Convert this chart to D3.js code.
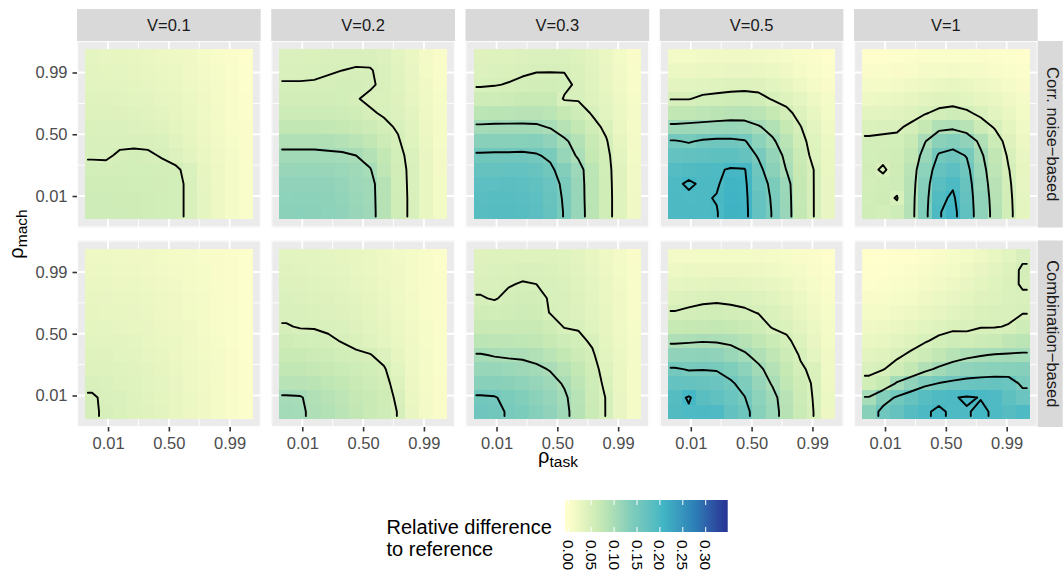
<!DOCTYPE html>
<html>
<head>
<meta charset="utf-8">
<script src="https://cdn.jsdelivr.net/npm/d3@7"></script>
<style>
  body { margin: 0; background: #fff; }
  svg { font-family: "Liberation Sans", Arial, Helvetica, sans-serif; }
</style>
</head>
<body>
<svg id="svg" width="1064" height="578"></svg>
<script>
const vLabels = ['V=0.1', 'V=0.2', 'V=0.3', 'V=0.5', 'V=1']
const methodLabels = ['Corr. noise\u2212based', 'Combination\u2212based']
const rhoTicks = [0.01, 0.5, 0.99]
const legendTicks = [0, 0.05, 0.1, 0.15, 0.2, 0.25, 0.3]
const contourLevels = [5, 10, 15, 20, 25]
const paletteStops = [0, 6.9, 13.8, 20.7, 27.6, 34.5]
const paletteColors = ['#ffffcc', '#c7e9b4', '#7fcdbb', '#41b6c4', '#2c7fb8', '#253494']

// relative difference in percent, 12 x 12 per panel
// rows: rho_mach high -> low, columns: rho_task low -> high
const corrV01 = [
  [3.2, 3.1, 3.0, 2.8, 2.6, 2.4, 2.1, 1.8, 1.4, 1.0, 0.6, 0.3],
  [3.4, 3.3, 3.2, 3.0, 2.8, 2.6, 2.3, 1.9, 1.5, 1.1, 0.7, 0.4],
  [3.6, 3.5, 3.4, 3.3, 3.1, 2.9, 2.5, 2.1, 1.7, 1.2, 0.8, 0.4],
  [3.9, 3.8, 3.7, 3.6, 3.4, 3.1, 2.8, 2.3, 1.8, 1.3, 0.9, 0.5],
  [4.2, 4.1, 4.0, 3.9, 3.7, 3.4, 3.0, 2.5, 2.0, 1.5, 1.0, 0.5],
  [4.5, 4.4, 4.4, 4.3, 4.1, 3.8, 3.3, 2.8, 2.2, 1.6, 1.0, 0.6],
  [4.8, 4.7, 4.7, 4.7, 4.7, 4.4, 3.7, 3.0, 2.4, 1.7, 1.1, 0.6],
  [4.8, 4.8, 5.2, 5.3, 5.2, 4.9, 4.3, 3.4, 2.6, 1.9, 1.2, 0.6],
  [5.5, 5.4, 5.4, 5.5, 5.5, 5.4, 5.3, 4.4, 3.0, 2.1, 1.3, 0.7],
  [5.8, 5.8, 5.8, 5.7, 5.7, 5.6, 5.5, 4.6, 3.1, 2.1, 1.3, 0.7],
  [6.0, 6.0, 5.9, 5.9, 5.8, 5.7, 5.5, 4.6, 3.2, 2.2, 1.3, 0.7],
  [6.1, 6.0, 6.0, 5.9, 5.8, 5.7, 5.5, 4.6, 3.2, 2.2, 1.4, 0.7]
]
const corrV02 = [
  [4.4, 4.4, 4.5, 4.6, 4.7, 4.7, 4.6, 4.3, 3.5, 2.5, 1.5, 0.8],
  [4.7, 4.7, 4.8, 4.9, 5.0, 5.1, 5.1, 4.6, 3.7, 2.7, 1.6, 0.9],
  [5.1, 5.1, 5.1, 5.2, 5.3, 5.3, 5.2, 4.7, 3.9, 2.9, 1.8, 1.0],
  [5.6, 5.6, 5.6, 5.6, 5.5, 5.1, 4.7, 4.5, 4.0, 3.1, 2.0, 1.1],
  [6.3, 6.3, 6.3, 6.2, 6.0, 5.8, 5.2, 4.8, 4.3, 3.4, 2.2, 1.2],
  [7.3, 7.3, 7.3, 7.2, 7.0, 6.7, 6.2, 5.4, 4.8, 3.7, 2.4, 1.3],
  [9.2, 9.2, 9.2, 9.0, 8.8, 8.2, 7.3, 6.2, 5.2, 3.9, 2.6, 1.4],
  [10.6, 10.6, 10.6, 10.5, 10.4, 10.0, 8.8, 7.2, 5.5, 4.4, 2.7, 1.5],
  [11.5, 11.6, 11.6, 11.5, 11.3, 10.8, 10.2, 7.6, 5.6, 4.6, 2.8, 1.5],
  [12.2, 12.3, 12.3, 12.2, 11.8, 11.2, 10.8, 8.5, 5.7, 4.6, 2.8, 1.6],
  [12.6, 12.7, 12.7, 12.5, 12.1, 11.4, 10.9, 8.5, 5.8, 4.6, 2.9, 1.6],
  [12.8, 12.9, 12.8, 12.6, 12.2, 11.5, 11.0, 8.5, 5.8, 4.6, 2.9, 1.6]
]
const corrV03 = [
  [4.0, 4.1, 4.2, 4.3, 4.4, 4.4, 4.4, 4.2, 3.4, 2.5, 1.6, 0.8],
  [4.3, 4.4, 4.5, 4.7, 4.9, 4.9, 4.9, 4.5, 3.7, 2.7, 1.7, 0.9],
  [4.8, 4.9, 5.1, 5.4, 5.6, 5.7, 5.5, 4.6, 3.9, 2.9, 1.9, 1.0],
  [6.0, 6.1, 6.3, 6.5, 6.6, 6.5, 4.8, 4.8, 4.2, 3.2, 2.1, 1.1],
  [8.0, 8.1, 8.2, 8.3, 8.3, 8.0, 7.0, 6.0, 4.8, 3.6, 2.3, 1.2],
  [10.5, 10.6, 10.6, 10.6, 10.5, 9.8, 8.5, 7.2, 5.8, 4.5, 2.6, 1.4],
  [13.0, 13.0, 13.0, 13.1, 13.2, 12.3, 10.5, 8.8, 6.6, 5.2, 3.0, 1.5],
  [15.5, 15.6, 15.6, 15.7, 15.3, 14.4, 11.6, 9.6, 7.0, 5.6, 3.4, 1.6],
  [17.0, 17.1, 17.2, 17.2, 16.8, 15.6, 13.5, 11.2, 8.0, 5.7, 3.8, 1.7],
  [18.0, 18.1, 18.2, 18.1, 17.6, 16.4, 14.3, 11.5, 8.0, 5.8, 3.8, 1.7],
  [18.5, 18.6, 18.6, 18.5, 18.0, 16.8, 14.6, 11.6, 8.0, 5.8, 3.9, 1.8],
  [18.7, 18.8, 18.8, 18.6, 18.2, 17.0, 14.8, 11.7, 8.1, 5.8, 3.9, 1.8]
]
const corrV05 = [
  [1.5, 1.6, 1.7, 1.8, 1.8, 1.8, 1.7, 1.5, 1.2, 0.9, 0.6, 0.3],
  [2.3, 2.4, 2.5, 2.6, 2.7, 2.7, 2.6, 2.3, 1.9, 1.4, 0.9, 0.5],
  [3.5, 3.6, 3.7, 3.9, 4.1, 4.2, 4.0, 3.6, 3.0, 2.2, 1.4, 0.8],
  [4.9, 4.9, 5.5, 5.7, 5.9, 6.0, 5.8, 4.8, 4.2, 3.2, 2.1, 1.2],
  [7.3, 7.5, 7.8, 8.1, 8.3, 8.4, 8.0, 7.0, 5.6, 4.2, 2.8, 1.6],
  [10.8, 11.0, 11.2, 11.4, 11.6, 11.4, 10.3, 8.9, 7.0, 5.1, 3.4, 2.0],
  [15.3, 14.7, 15.5, 15.8, 15.8, 15.3, 12.6, 10.5, 8.2, 5.8, 3.9, 2.3],
  [17.2, 17.4, 17.6, 17.8, 17.8, 17.0, 14.6, 11.9, 9.2, 6.4, 4.2, 2.5],
  [19.0, 19.2, 19.4, 19.6, 20.3, 20.2, 16.0, 12.8, 9.9, 6.8, 4.9, 2.6],
  [19.6, 20.3, 19.7, 19.8, 20.8, 20.6, 16.6, 14.2, 11.2, 7.0, 4.9, 2.7],
  [19.7, 19.6, 19.8, 20.1, 21.0, 20.8, 17.0, 14.6, 11.4, 7.1, 4.9, 2.7],
  [19.8, 19.8, 19.7, 19.9, 21.1, 20.9, 17.2, 14.8, 11.5, 7.2, 4.9, 2.7]
]
const corrV1 = [
  [0.3, 0.3, 0.4, 0.5, 0.6, 0.7, 0.7, 0.7, 0.6, 0.5, 0.4, 0.3],
  [0.6, 0.7, 0.8, 1.0, 1.2, 1.4, 1.5, 1.4, 1.2, 1.0, 0.7, 0.5],
  [1.2, 1.3, 1.5, 1.8, 2.2, 2.6, 2.8, 2.6, 2.2, 1.7, 1.2, 0.8],
  [2.2, 2.3, 2.6, 3.0, 3.4, 3.8, 3.9, 3.6, 3.0, 2.5, 1.9, 1.2],
  [3.4, 3.5, 3.7, 4.2, 4.8, 5.6, 6.0, 5.4, 4.4, 3.6, 2.6, 1.6],
  [4.5, 4.6, 4.7, 5.4, 7.0, 9.0, 9.4, 8.4, 6.3, 4.8, 3.3, 2.0],
  [5.3, 5.4, 5.5, 6.6, 9.8, 12.8, 13.4, 12.2, 9.2, 6.3, 4.0, 2.4],
  [5.5, 5.6, 5.8, 7.4, 11.4, 15.4, 16.2, 14.8, 10.6, 7.3, 4.6, 2.7],
  [5.6, 4.7, 5.9, 8.2, 12.6, 17.0, 18.0, 16.0, 11.3, 7.9, 5.1, 3.0],
  [5.4, 5.8, 6.0, 8.5, 13.2, 18.4, 19.6, 16.8, 11.8, 8.3, 5.4, 3.1],
  [5.7, 5.9, 4.8, 8.7, 13.6, 19.2, 20.5, 17.3, 12.2, 8.6, 5.6, 3.2],
  [5.8, 5.3, 6.1, 8.8, 13.8, 19.8, 21.0, 17.6, 12.4, 8.8, 5.7, 3.3]
]
const combV01 = [
  [2.2, 2.1, 2.0, 1.9, 1.8, 1.6, 1.4, 1.2, 1.0, 0.8, 0.6, 0.4],
  [2.4, 2.3, 2.2, 2.1, 1.9, 1.7, 1.5, 1.3, 1.1, 0.8, 0.6, 0.4],
  [2.6, 2.5, 2.4, 2.3, 2.1, 1.9, 1.7, 1.4, 1.1, 0.9, 0.6, 0.4],
  [2.8, 2.7, 2.6, 2.5, 2.3, 2.1, 1.8, 1.5, 1.2, 0.9, 0.6, 0.4],
  [3.0, 2.9, 2.8, 2.7, 2.5, 2.2, 1.9, 1.6, 1.3, 1.0, 0.7, 0.4],
  [3.3, 3.2, 3.1, 2.9, 2.7, 2.4, 2.1, 1.8, 1.4, 1.0, 0.7, 0.4],
  [3.6, 3.5, 3.4, 3.2, 2.9, 2.6, 2.3, 1.9, 1.5, 1.1, 0.7, 0.4],
  [3.9, 3.8, 3.6, 3.4, 3.1, 2.8, 2.4, 2.0, 1.6, 1.2, 0.8, 0.4],
  [4.2, 4.1, 3.9, 3.7, 3.4, 3.0, 2.6, 2.1, 1.7, 1.2, 0.8, 0.5],
  [4.6, 4.4, 4.2, 3.9, 3.6, 3.2, 2.7, 2.2, 1.7, 1.3, 0.8, 0.5],
  [5.2, 4.7, 4.4, 4.1, 3.7, 3.3, 2.8, 2.3, 1.8, 1.3, 0.9, 0.5],
  [5.1, 4.9, 4.5, 4.2, 3.8, 3.4, 2.9, 2.4, 1.8, 1.3, 0.9, 0.5]
]
const combV02 = [
  [3.6, 3.5, 3.4, 3.2, 3.0, 2.8, 2.5, 2.1, 1.7, 1.3, 0.9, 0.5],
  [3.8, 3.7, 3.6, 3.4, 3.2, 2.9, 2.6, 2.2, 1.8, 1.4, 0.9, 0.5],
  [4.1, 4.0, 3.9, 3.7, 3.4, 3.1, 2.8, 2.4, 1.9, 1.4, 1.0, 0.6],
  [4.4, 4.3, 4.2, 4.0, 3.7, 3.4, 3.0, 2.5, 2.0, 1.5, 1.0, 0.6],
  [4.7, 4.6, 4.5, 4.3, 4.0, 3.7, 3.3, 2.7, 2.1, 1.6, 1.0, 0.6],
  [5.1, 4.9, 4.9, 4.7, 4.4, 4.0, 3.6, 3.0, 2.3, 1.7, 1.1, 0.6],
  [5.9, 5.7, 5.5, 5.3, 4.9, 4.5, 3.9, 3.2, 2.5, 1.8, 1.1, 0.7],
  [6.6, 6.5, 6.3, 6.0, 5.7, 5.3, 5.1, 4.3, 3.0, 2.0, 1.2, 0.7],
  [7.4, 7.3, 7.1, 6.8, 6.4, 6.0, 5.7, 5.2, 3.6, 2.2, 1.3, 0.7],
  [8.4, 8.3, 8.1, 7.7, 7.2, 6.6, 6.1, 5.6, 4.2, 2.4, 1.4, 0.8],
  [10.3, 10.2, 9.1, 8.5, 7.8, 7.1, 6.5, 5.9, 4.6, 2.6, 1.5, 0.8],
  [10.5, 10.4, 9.4, 8.9, 8.2, 7.4, 6.7, 6.1, 4.9, 2.7, 1.5, 0.8]
]
const combV03 = [
  [4.0, 4.1, 4.1, 4.2, 4.2, 4.1, 3.9, 3.5, 2.9, 2.2, 1.5, 0.8],
  [4.3, 4.4, 4.5, 4.6, 4.7, 4.5, 4.2, 3.7, 3.1, 2.4, 1.6, 0.9],
  [4.7, 4.7, 4.9, 5.1, 5.0, 4.8, 4.4, 3.9, 3.2, 2.5, 1.7, 0.9],
  [5.1, 4.9, 5.3, 5.6, 5.6, 4.8, 4.6, 4.1, 3.4, 2.6, 1.8, 1.0],
  [5.8, 5.7, 5.8, 6.0, 5.9, 4.9, 4.7, 4.3, 3.6, 2.8, 1.9, 1.0],
  [6.6, 6.6, 6.7, 6.7, 6.5, 5.9, 4.9, 4.8, 3.9, 3.0, 2.0, 1.1],
  [8.0, 7.9, 7.8, 7.7, 7.4, 6.8, 6.0, 5.5, 4.7, 3.3, 2.2, 1.2],
  [10.2, 9.8, 9.6, 9.5, 9.0, 8.2, 7.2, 6.3, 5.3, 3.6, 2.3, 1.2],
  [11.7, 11.6, 11.3, 11.0, 10.6, 9.8, 8.5, 7.2, 5.8, 4.1, 2.5, 1.3],
  [13.0, 13.0, 12.8, 12.4, 11.8, 11.0, 9.7, 7.9, 6.1, 4.5, 2.6, 1.3],
  [15.4, 15.2, 14.2, 13.6, 12.7, 11.8, 10.5, 8.4, 6.3, 4.9, 2.7, 1.4],
  [15.8, 15.5, 14.8, 14.2, 13.2, 12.2, 10.8, 8.6, 6.4, 4.9, 2.7, 1.4]
]
const combV05 = [
  [1.5, 1.5, 1.6, 1.6, 1.6, 1.6, 1.5, 1.3, 1.1, 0.8, 0.6, 0.3],
  [2.2, 2.3, 2.4, 2.4, 2.4, 2.4, 2.2, 2.0, 1.6, 1.2, 0.8, 0.5],
  [3.1, 3.2, 3.3, 3.4, 3.4, 3.3, 3.1, 2.8, 2.3, 1.7, 1.1, 0.6],
  [4.1, 4.3, 4.5, 4.6, 4.5, 4.4, 4.1, 3.7, 3.0, 2.3, 1.5, 0.9],
  [5.1, 5.4, 5.7, 5.8, 5.6, 5.3, 4.9, 4.5, 3.8, 2.9, 1.9, 1.1],
  [6.9, 7.0, 7.1, 7.2, 7.0, 6.6, 6.0, 4.8, 4.5, 3.5, 2.3, 1.3],
  [9.4, 9.6, 9.8, 9.7, 9.4, 8.6, 7.5, 6.4, 5.4, 4.2, 2.7, 1.6],
  [12.3, 12.4, 12.5, 12.2, 11.4, 10.4, 9.0, 7.6, 6.2, 4.8, 3.2, 1.8],
  [15.3, 14.8, 14.9, 14.8, 13.8, 12.6, 10.6, 8.8, 7.0, 5.3, 4.5, 2.0],
  [17.2, 17.0, 16.8, 16.4, 15.4, 14.0, 11.8, 9.7, 7.5, 5.9, 4.7, 2.1],
  [18.9, 20.3, 18.4, 17.6, 16.6, 15.1, 12.6, 10.9, 8.3, 6.2, 4.8, 2.3],
  [19.2, 19.6, 19.8, 19.5, 17.4, 16.2, 13.0, 11.3, 8.5, 6.4, 4.9, 2.4]
]
const combV1 = [
  [0.0, 0.1, 0.2, 0.3, 0.5, 0.8, 1.1, 1.6, 2.1, 2.8, 3.6, 4.6],
  [0.2, 0.3, 0.4, 0.6, 0.9, 1.2, 1.6, 2.1, 2.7, 3.4, 4.2, 5.3],
  [0.4, 0.5, 0.7, 0.9, 1.3, 1.7, 2.1, 2.7, 3.3, 3.9, 4.5, 5.2],
  [0.8, 0.9, 1.1, 1.4, 1.8, 2.3, 2.7, 3.3, 3.8, 4.2, 4.4, 4.7],
  [1.3, 1.4, 1.7, 2.1, 2.6, 3.1, 3.6, 4.1, 4.5, 4.7, 4.6, 4.9],
  [1.9, 2.1, 2.5, 3.0, 3.6, 4.2, 4.5, 4.6, 4.9, 4.9, 5.1, 6.0],
  [2.6, 2.9, 3.4, 4.1, 4.8, 5.5, 6.1, 5.8, 6.2, 6.6, 7.6, 8.0],
  [3.4, 3.8, 4.6, 5.4, 6.3, 7.3, 8.4, 9.3, 9.8, 10.2, 10.3, 10.4],
  [4.4, 4.9, 5.9, 7.2, 9.2, 10.6, 11.7, 12.3, 12.7, 12.9, 13.1, 13.2],
  [5.7, 6.9, 10.4, 12.3, 14.0, 15.1, 15.8, 16.4, 16.7, 16.9, 16.6, 14.3],
  [10.2, 13.5, 15.4, 17.0, 18.6, 19.4, 19.8, 20.3, 19.9, 19.5, 17.8, 16.4],
  [13.0, 16.0, 17.0, 18.8, 19.7, 20.4, 19.6, 19.8, 20.5, 19.6, 18.8, 19.6]
]

const grids = [
  [corrV01, corrV02, corrV03, corrV05, corrV1],
  [combV01, combV02, combV03, combV05, combV1]
]

const svg = d3.select('#svg')
const color = d3.scaleLinear()
  .domain(paletteStops)
  .range(paletteColors)
  .interpolate(d3.interpolateLab)
  .clamp(true)

const fx = d3.scaleBand().domain(vLabels).range([77, 1037.7]).paddingInner(0.0543)
const fy = d3.scaleBand().domain(methodLabels).range([41, 427]).paddingInner(0.065)
const bw = fx.bandwidth()
const bh = fy.bandwidth()
const x = d3.scaleLinear().domain([-0.24, 1.24]).range([0, bw])
const y = d3.scaleLinear().domain([-0.24, 1.24]).range([bh, 0])
const tileLo = -0.175
const tileHi = 1.175
const minorBreaks = [-0.235, 0.255, 0.745, 1.235]

// open contour lines like ggplot: drop the parts running along the grid border,
// and let each open end reach close to the outer tile edge
function contourLines(grid, level) {
  const n = grid[0].length
  const m = grid.length
  const mp = d3.contours().size([n, m]).smooth(true).thresholds([level])(grid.flat())[0]
  const inside = p => p[0] > 0 && p[0] < n && p[1] > 0 && p[1] < m
  const edgeEnd = (b, q) => {
    if (b[0] <= 0) return [0.2, q[1]]
    if (b[0] >= n) return [n - 0.2, q[1]]
    if (b[1] <= 0) return [q[0], 0.2]
    return [q[0], m - 0.2]
  }
  const lines = []
  mp.coordinates.forEach(poly => poly.forEach(ring => {
    const pts = ring.slice(0, -1)
    const k = pts.findIndex(p => !inside(p))
    if (k < 0) { lines.push(ring); return }
    let run = []
    let start = pts[k]
    for (let i = 1; i <= pts.length; i += 1) {
      const p = pts[(k + i) % pts.length]
      if (inside(p)) run.push(p)
      else {
        if (run.length > 1) {
          lines.push([edgeEnd(start, run[0]), ...run, edgeEnd(p, run[run.length - 1])])
        }
        run = []
        start = p
      }
    }
  }))
  return lines
}

function styleAxis(a) {
  a.attr('font-family', null).attr('font-size', 16.5)
  a.select('.domain').remove()
  a.selectAll('line').attr('stroke', '#333333').attr('stroke-width', 1.6)
  a.selectAll('text').attr('fill', '#4d4d4d')
}

methodLabels.forEach((method, i) => {
  vLabels.forEach((v, j) => {
    const grid = grids[i][j]
    const cw = (tileHi - tileLo) / grid.length
    const g = svg.append('g').attr('transform', `translate(${fx(v)},${fy(method)})`)

    g.append('rect').attr('width', bw).attr('height', bh).attr('fill', '#ebebeb')
    g.selectAll('.minx').data(minorBreaks).join('line')
      .attr('x1', d => x(d)).attr('x2', d => x(d)).attr('y1', 0).attr('y2', bh)
      .attr('stroke', '#fff').attr('stroke-width', 0.9)
    g.selectAll('.miny').data(minorBreaks).join('line')
      .attr('y1', d => y(d)).attr('y2', d => y(d)).attr('x1', 0).attr('x2', bw)
      .attr('stroke', '#fff').attr('stroke-width', 0.9)
    g.selectAll('.majx').data(rhoTicks).join('line')
      .attr('x1', d => x(d)).attr('x2', d => x(d)).attr('y1', 0).attr('y2', bh)
      .attr('stroke', '#fff').attr('stroke-width', 1.8)
    g.selectAll('.majy').data(rhoTicks).join('line')
      .attr('y1', d => y(d)).attr('y2', d => y(d)).attr('x1', 0).attr('x2', bw)
      .attr('stroke', '#fff').attr('stroke-width', 1.8)

    const cells = grid.flatMap((row, r) => row.map((val, c) => ({ r, c, val })))
    g.append('g').selectAll('rect').data(cells).join('rect')
      .attr('x', d => x(tileLo + d.c * cw))
      .attr('y', d => y(tileHi - d.r * cw))
      .attr('width', d => x(tileLo + (d.c + 1) * cw) - x(tileLo + d.c * cw))
      .attr('height', d => y(tileHi - (d.r + 1) * cw) - y(tileHi - d.r * cw))
      .attr('fill', d => color(d.val))
      .attr('shape-rendering', 'crispEdges')

    const line = d3.line()
      .x(p => x(tileLo + p[0] * cw))
      .y(p => y(tileHi - p[1] * cw))
    const paths = contourLevels.flatMap(level => contourLines(grid, level))
    g.append('g').selectAll('path').data(paths).join('path')
      .attr('d', line)
      .attr('fill', 'none')
      .attr('stroke', '#000')
      .attr('stroke-width', 1.9)
      .attr('stroke-linejoin', 'round')
      .attr('stroke-linecap', 'round')

    if (j === 0) {
      g.append('g')
        .call(d3.axisLeft(y).tickValues(rhoTicks).tickFormat(d3.format('.2f')).tickSize(4.5).tickPadding(5))
        .call(styleAxis)
    }
    if (i === methodLabels.length - 1) {
      g.append('g').attr('transform', `translate(0,${bh})`)
        .call(d3.axisBottom(x).tickValues(rhoTicks).tickFormat(d3.format('.2f')).tickSize(4.5).tickPadding(6))
        .call(styleAxis)
    }
    if (i === 0) {
      g.append('rect').attr('x', 0).attr('y', -32).attr('width', bw).attr('height', 32).attr('fill', '#d9d9d9')
      g.append('text').attr('x', bw / 2).attr('y', -10).attr('text-anchor', 'middle')
        .attr('font-size', 16.5).attr('fill', '#1a1a1a').text(v)
    }
    if (j === vLabels.length - 1) {
      g.append('rect').attr('x', bw).attr('y', 0).attr('width', 25).attr('height', bh).attr('fill', '#d9d9d9')
      g.append('text').attr('transform', `translate(${bw + 9},${bh / 2}) rotate(90)`)
        .attr('text-anchor', 'middle').attr('font-size', 16.5).attr('fill', '#1a1a1a').text(method)
    }
  })
})

// axis titles
const xTitle = svg.append('text').attr('x', 558).attr('y', 463).attr('text-anchor', 'middle').attr('font-size', 20)
xTitle.append('tspan').text('\u03c1')
xTitle.append('tspan').attr('font-size', 15.5).attr('dy', 4).text('task')

const yTitle = svg.append('text').attr('transform', 'translate(23,234) rotate(-90)')
  .attr('text-anchor', 'middle').attr('font-size', 20)
yTitle.append('tspan').text('\u03c1')
yTitle.append('tspan').attr('font-size', 15.5).attr('dy', 4).text('mach')

// legend
const legendX = d3.scaleLinear().domain([0, 0.3]).range([568.3, 705.7])
const barX0 = 565
const barX1 = 727.7
const grad = svg.append('defs').append('linearGradient').attr('id', 'bar')
grad.selectAll('stop').data(d3.range(0, 1.0001, 0.05)).join('stop')
  .attr('offset', f => f)
  .attr('stop-color', f => color(legendX.invert(barX0 + f * (barX1 - barX0)) * 100))
svg.append('rect').attr('x', barX0).attr('y', 500).attr('width', barX1 - barX0).attr('height', 32)
  .attr('fill', 'url(#bar)')
svg.selectAll('.ltick-top').data(legendTicks).join('line')
  .attr('x1', d => legendX(d)).attr('x2', d => legendX(d)).attr('y1', 500).attr('y2', 505)
  .attr('stroke', '#fff').attr('stroke-width', 1)
svg.selectAll('.ltick-bot').data(legendTicks).join('line')
  .attr('x1', d => legendX(d)).attr('x2', d => legendX(d)).attr('y1', 527).attr('y2', 532)
  .attr('stroke', '#fff').attr('stroke-width', 1)
svg.selectAll('.llab').data(legendTicks).join('text')
  .attr('transform', d => `translate(${legendX(d)},540) rotate(90)`)
  .attr('dy', '0.35em').attr('font-size', 15.5).attr('fill', '#000')
  .text(d => d3.format('.2f')(d))

svg.append('text').attr('x', 386.5).attr('y', 534).attr('font-size', 20).text('Relative difference')
svg.append('text').attr('x', 386.5).attr('y', 556).attr('font-size', 20).text('to reference')
</script>
</body>
</html>
